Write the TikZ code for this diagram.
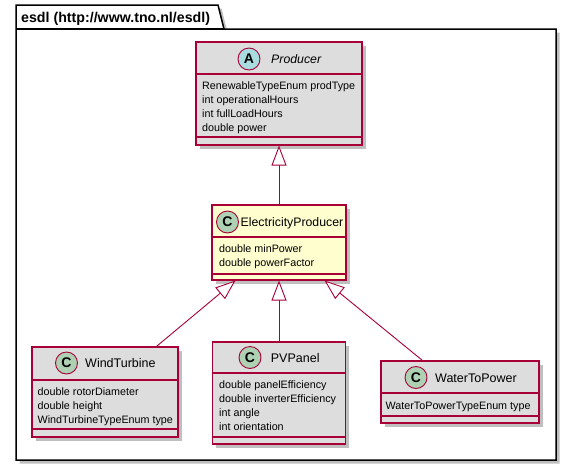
\documentclass[tikz,border=0pt]{standalone}
\usepackage{fontspec}
\setmainfont{Liberation Sans}
\usetikzlibrary{arrows.meta,shadows,calc}
\definecolor{umlborder}{HTML}{A80036}
\definecolor{umlyellow}{HTML}{FEFECE}
\definecolor{umlgray}{HTML}{DDDDDD}
\definecolor{absfill}{HTML}{A9DCDF}
\definecolor{clsfill}{HTML}{ADD1B2}
\begin{document}
\begin{tikzpicture}[x=1pt,y=-1pt,
  shad/.style={drop shadow={shadow xshift=3.5pt, shadow yshift=-3.5pt, fill=black, opacity=0.25}},
  classbox/.style={draw=umlborder, line width=1.1pt, fill=umlgray, inner sep=0pt, shad},
  divline/.style={draw=umlborder, line width=1.1pt},
  circ/.style={circle, draw=umlborder, line width=0.9pt, minimum size=22pt, inner sep=0pt, fill=clsfill, font=\bfseries\fontsize{14}{14}\selectfont},
  cname/.style={anchor=base west, inner sep=0pt, font=\fontsize{12.5}{14}\selectfont},
  attr/.style={anchor=base west, inner sep=0pt, font=\fontsize{10.75}{14}\selectfont},
  ext/.style={draw=umlborder, line width=0.9pt, -{Triangle[length=20pt,width=15pt,fill=white]}}
]
\useasboundingbox (0,0) rectangle (572,466);
\fill[white] (0,0) rectangle (572,466);

% package frame
\draw[black, line width=1.5pt, fill=white, shad, line join=miter]
  (16,460) -- (16,5) -- (218,5) -- (224,29) -- (556,29) -- (556,460) -- cycle;
\draw[black, line width=1.5pt] (16,29) -- (224,29);
\node[anchor=base west, inner sep=0pt, font=\bfseries\fontsize{14.2}{16}\selectfont] (pkg) at (21,22.5) {esdl (http://www.tno.nl/esdl)};

% Producer
\node[classbox, minimum width=166pt, minimum height=103pt] (prod) at (279,93.5) {};
\draw[divline] (prod.west |- 0,74) -- (prod.east |- 0,74);
\draw[divline] (prod.west |- 0,137) -- (prod.east |- 0,137);
\node[circ, fill=absfill] (prodC) at (249,59) {A};
\node[cname, font=\itshape\fontsize{12.3}{14}\selectfont] (prodN) at (271,63.5) {Producer};
\node[attr] (prodA1) at (202,89) {RenewableTypeEnum prodType};
\node[attr] (prodA2) at (202,103) {int operationalHours};
\node[attr] (prodA3) at (202,117) {int fullLoadHours};
\node[attr] (prodA4) at (202,131) {double power};

% ElectricityProducer
\node[classbox, fill=umlyellow, minimum width=134pt, minimum height=75pt] (ep) at (279,242.5) {};
\draw[divline] (ep.west |- 0,237) -- (ep.east |- 0,237);
\draw[divline] (ep.west |- 0,274) -- (ep.east |- 0,274);
\node[circ] (epC) at (227.5,222) {C};
\node[cname, font=\fontsize{12.3}{14}\selectfont] (epN) at (240.5,226.7) {ElectricityProducer};
\node[attr] (epA1) at (219,252) {double minPower};
\node[attr] (epA2) at (219,266) {double powerFactor};

% WindTurbine
\node[classbox, minimum width=146pt, minimum height=90pt] (wt) at (105,392) {};
\draw[divline] (wt.west |- 0,380) -- (wt.east |- 0,380);
\draw[divline] (wt.west |- 0,429) -- (wt.east |- 0,429);
\node[circ] (wtC) at (66.5,363) {C};
\node[cname] (wtN) at (85,367.5) {WindTurbine};
\node[attr] (wtA1) at (37.5,395) {double rotorDiameter};
\node[attr] (wtA2) at (37.5,409) {double height};
\node[attr] (wtA3) at (37.5,423) {WindTurbineTypeEnum type};

% PVPanel
\node[classbox, minimum width=133pt, minimum height=102pt] (pv) at (279,393) {};
\draw[divline] (pv.west |- 0,373) -- (pv.east |- 0,373);
\draw[divline] (pv.west |- 0,437) -- (pv.east |- 0,437);
\node[circ] (pvC) at (250,357.5) {C};
\node[cname] (pvN) at (270.7,362) {PVPanel};
\node[attr] (pvA1) at (219,388) {double panelEfficiency};
\node[attr] (pvA2) at (219,402) {double inverterEfficiency};
\node[attr] (pvA3) at (219,416) {int angle};
\node[attr] (pvA4) at (219,430) {int orientation};

% WaterToPower
\node[classbox, minimum width=158pt, minimum height=62pt] (wtp) at (460,392) {};
\draw[divline] (wtp.west |- 0,393) -- (wtp.east |- 0,393);
\draw[divline] (wtp.west |- 0,416) -- (wtp.east |- 0,416);
\node[circ] (wtpC) at (416,377.5) {C};
\node[cname] (wtpN) at (435,382) {WaterToPower};
\node[attr] (wtpA1) at (385.5,409) {WaterToPowerTypeEnum type};

% connectors
\coordinate (epL) at ($(ep.south west)+(24,0)$);
\coordinate (epR) at ($(ep.south east)+(-22,0)$);
\coordinate (wtTop) at ($(wt.north west)+(125,0)$);
\coordinate (wtpTop) at ($(wtp.north west)+(42,0)$);
\draw[ext] (ep.north) -- (prod.south);
\draw[ext] (wtTop) -- (epL);
\draw[ext] (pv.north) -- (ep.south);
\draw[ext] (wtpTop) -- (epR);
\end{tikzpicture}
\end{document}
